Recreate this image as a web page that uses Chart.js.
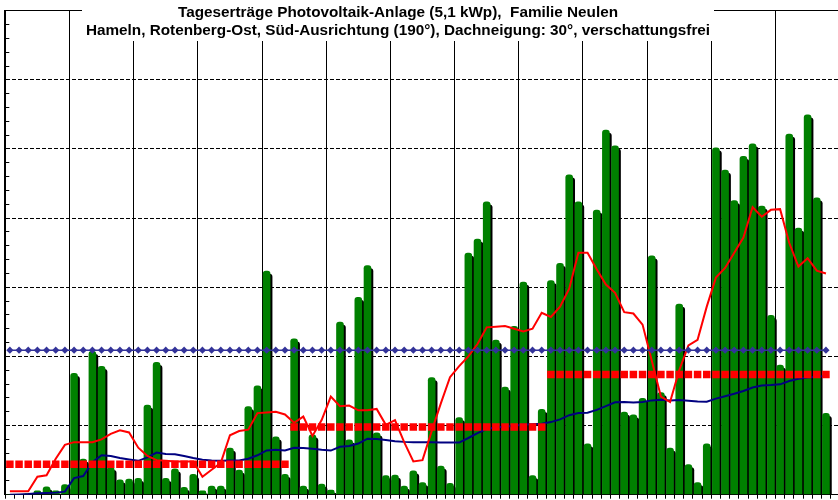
<!DOCTYPE html>
<html lang="de">
<head>
<meta charset="utf-8">
<title>Tageserträge Photovoltaik-Anlage</title>
<script src="https://cdn.jsdelivr.net/npm/chart.js@4.4.1/dist/chart.umd.min.js"></script>
<style>
    html, body { margin: 0; padding: 0; background: #ffffff; overflow: hidden; }
    #wrap { position: relative; width: 838px; height: 500px; overflow: hidden; }
    #pvChart { display: block; }
</style>
</head>
<body>
<div id="wrap"><canvas id="pvChart" width="845" height="500"></canvas></div>
<script>
// --- data (kWh per day): Jan, Feb, Mar ---
const monthDays = [31, 28, 31];

// daily yield (green bars)
const dailyYield = [
    // Jan
    0.05, 0.05, 0.1, 0.3, 0.6, 0.3, 0.75, 8.8, 2.6, 10.4, 9.3, 2.0, 1.1, 1.15, 1.2, 6.5,
    9.6, 1.2, 1.9, 0.55, 1.5, 0.3, 0.65, 0.65, 3.4, 1.8, 6.4, 7.9, 16.2, 4.2, 1.5,
    // Feb
    11.3, 0.65, 4.35, 0.8, 0.35, 12.5, 4.0, 14.3, 16.6, 4.5, 1.4, 1.45, 0.65, 1.75,
    0.9, 8.5, 2.1, 0.85, 5.6, 17.5, 18.5, 21.2, 11.2, 7.8, 12.2, 15.4, 1.4, 6.2,
    // Mar
    15.5, 16.75, 23.15, 21.2, 3.7, 20.6, 26.4, 25.25, 6.0, 5.8, 7.0, 17.3, 7.4, 3.4,
    13.8, 2.2, 0.9, 3.7, 25.1, 23.5, 21.3, 24.5, 25.4, 20.9, 13.0, 9.4, 26.1, 19.3,
    27.5, 21.5, 5.9
];

// moving average (red line)
const movingAvg = [
    0.25, 0.25, 0.25, 1.3, 1.4, 2.6, 3.6, 3.8, 3.8, 3.8, 4.0, 4.4, 4.65, 4.5, 3.4, 2.8,
    2.5, 2.45, 2.4, 2.4, 2.4, 1.3, 1.8, 2.3, 4.3, 4.6, 4.7, 5.9, 5.95, 6.0, 5.8,
    5.2, 5.65, 4.25, 5.4, 7.1, 6.4, 6.45, 6.1, 6.1, 6.2, 5.05, 5.4, 3.8, 2.4,
    2.5, 4.6, 6.6, 8.5, 9.3, 10.0, 10.9, 12.1, 12.15, 12.2, 12.0, 11.8, 12.0, 13.15,
    12.85, 13.6, 14.9, 17.5, 17.5, 16.3, 15.2, 14.6, 13.2, 13.1, 12.3, 9.7, 7.1, 6.7,
    9.0, 10.8, 11.2, 13.6, 15.7, 16.4, 17.5, 18.6, 20.8, 20.1, 20.6, 20.65, 18.2, 16.5,
    17.1, 16.2, 16.0
];

// running average since 1 Jan (blue line)
const runningAvg = [
    0.0, 0.02, 0.05, 0.1, 0.12, 0.15, 0.22, 1.2, 1.35, 2.35, 2.85, 2.8, 2.65, 2.55, 2.45, 2.7,
    3.05, 2.95, 2.93, 2.8, 2.65, 2.52, 2.47, 2.45, 2.47, 2.47, 2.6, 2.85, 3.2, 3.25, 3.2,
    3.4, 3.37, 3.33, 3.25, 3.19, 3.47, 3.52, 3.7, 4.05, 4.03, 3.95, 3.87, 3.82, 3.8,
    3.8, 3.8, 3.78, 3.77, 3.77, 4.1, 4.45, 4.75, 4.88, 4.92, 4.98, 5.08, 5.1, 5.13,
    5.25, 5.45, 5.75, 5.9, 5.93, 6.13, 6.4, 6.68, 6.7, 6.67, 6.7, 6.82, 6.86, 6.82,
    6.85, 6.8, 6.74, 6.73, 6.95, 7.12, 7.3, 7.5, 7.75, 7.9, 7.93, 7.98, 8.22, 8.38,
    8.48, 8.53, 8.58
];

// targets: per month (red squares) and for the whole year (blue diamonds)
const monthTarget = [2.2, 4.9, 8.7];
const yearTarget = 10.45;

const titleLines = [
    "Tageserträge Photovoltaik-Anlage (5,1 kWp),  Familie Neulen",
    "Hameln, Rotenberg-Ost, Süd-Ausrichtung (190°), Dachneigung: 30°, verschattungsfrei"
];

// day labels (not shown) + one more day the picture cuts off at the right
const dayLabels = [];
const monthTargetDaily = [];
const yearTargetDaily = [];
monthDays.forEach((n, m) => {
    for (let d = 1; d <= n; d++) {
        dayLabels.push(d + "." + (m + 1) + ".");
        monthTargetDaily.push(monthTarget[m]);
        yearTargetDaily.push(yearTarget);
    }
});
dayLabels.push("1.4.");

// black drop shadow behind the bars
const barShadow = {
    id: "barShadow",
    beforeDatasetDraw(chart, args) {
        if (args.meta.type !== "bar") return;
        const ctx = chart.ctx;
        ctx.save();
        ctx.shadowColor = "#000000";
        ctx.shadowOffsetX = 2;
        ctx.shadowOffsetY = 3;
        ctx.shadowBlur = 0;
    },
    afterDatasetDraw(chart, args) {
        if (args.meta.type !== "bar") return;
        chart.ctx.restore();
    }
};

// two-line title sitting on a white box over the top of the plot
const titleBox = {
    id: "titleBox",
    afterDraw(chart) {
        const ctx = chart.ctx;
        const cx = 398;
        ctx.save();
        ctx.font = 'bold 15.3px "Liberation Sans", Arial, sans-serif';
        const w = Math.max(...titleLines.map(t => ctx.measureText(t).width)) + 8;
        ctx.fillStyle = "#ffffff";
        ctx.fillRect(Math.round(cx - w / 2), 0, Math.round(w), 41);
        ctx.fillStyle = "#000000";
        ctx.textAlign = "center";
        ctx.textBaseline = "alphabetic";
        titleLines.forEach((t, i) => ctx.fillText(t, cx, 16.5 + i * 18.5));
        ctx.restore();
    }
};

new Chart(document.getElementById("pvChart"), {
    type: "bar",
    data: {
        labels: dayLabels,
        datasets: [
            {
                type: "line",
                data: monthTargetDaily,
                showLine: false,
                pointStyle: "rect",
                pointRadius: 5.3,
                pointBorderWidth: 0,
                pointBackgroundColor: "#ff0000",
                order: 0,
                clip: 0
            },
            {
                type: "line",
                data: yearTargetDaily,
                borderColor: "#333399",
                borderWidth: 1.5,
                pointStyle: "rectRot",
                pointRadius: 3.6,
                pointBorderWidth: 0,
                pointBackgroundColor: "#333399",
                order: 1,
                clip: 0
            },
            {
                type: "line",
                data: movingAvg,
                borderColor: "#ff0000",
                borderWidth: 2,
                pointRadius: 0,
                tension: 0,
                order: 2,
                clip: 0
            },
            {
                type: "line",
                data: runningAvg,
                borderColor: "#000080",
                borderWidth: 2,
                pointRadius: 0,
                tension: 0,
                order: 3,
                clip: 0
            },
            {
                type: "bar",
                data: dailyYield,
                backgroundColor: "#008000",
                borderWidth: 0,
                borderRadius: 3,
                barPercentage: 0.83,
                categoryPercentage: 1,
                order: 4,
                clip: 0
            }
        ]
    },
    options: {
        responsive: false,
        animation: false,
        layout: { padding: { top: 10.7, right: 0, bottom: 0, left: 0.5 } },
        plugins: {
            legend: { display: false },
            tooltip: { enabled: false },
            title: { display: false }
        },
        scales: {
            x: {
                type: "category",
                offset: true,
                ticks: { display: false, autoSkip: false },
                grid: {
                    offset: true,
                    color: c => (c.index > 0 && c.index % 7 === 0) ? "#000000" : "rgba(0,0,0,0)",
                    lineWidth: 1,
                    tickColor: "#000000",
                    tickLength: 4,
                    drawTicks: true
                },
                border: { display: true, color: "#000000", width: 1 }
            },
            y: {
                min: 0,
                max: 35,
                // axis sits on the left edge, minor ticks point into the plot
                afterFit: scale => { scale.width = 0; },
                ticks: { display: false, stepSize: 1 },
                grid: {
                    color: c => (c.tick.value > 0 && c.tick.value % 5 === 0) ? "#000000" : "rgba(0,0,0,0)",
                    lineWidth: 1,
                    tickColor: "#000000",
                    tickLength: -4,
                    drawTicks: true
                },
                border: {
                    display: true,
                    color: "#000000",
                    width: 2,
                    dash: c => (c.tick && c.tick.value === 35) ? [] : [4, 2]
                }
            }
        }
    },
    plugins: [barShadow, titleBox]
});
</script>
</body>
</html>
